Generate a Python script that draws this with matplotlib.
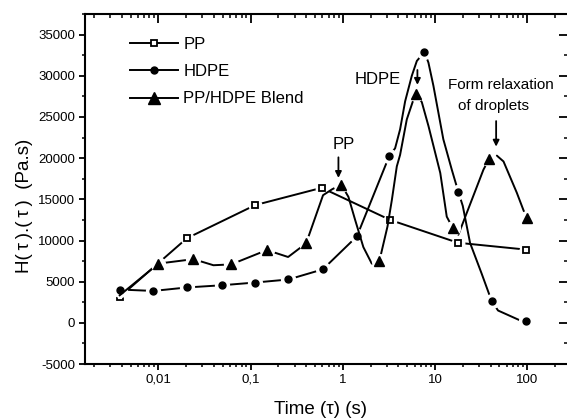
import matplotlib
matplotlib.use("Agg")
import matplotlib.pyplot as plt
from matplotlib.ticker import FixedLocator, FixedFormatter, NullFormatter, MultipleLocator
import numpy as np

plt.rcParams['font.family'] = ['Liberation Sans', 'DejaVu Sans']
plt.rcParams['axes.unicode_minus'] = False

# ---- data ----
pp_x = [0.0038, 0.0203, 0.112, 0.59, 3.26, 17.7, 96.6]
pp_y = [3150, 10270, 14300, 16400, 12500, 9730, 8900]

hdpe_x = [0.0038, 0.0088, 0.0203, 0.0488, 0.112, 0.257, 0.607, 1.42, 3.2, 7.67, 17.9, 41.3, 96.6]
hdpe_y = [4050, 3880, 4300, 4570, 4900, 5270, 6500, 10500, 20300, 32900, 15900, 2600, 180]
# curve trace of HDPE (markers + points)
hdpe_cx = [0.0038, 0.0088, 0.0203, 0.0488, 0.112, 0.257, 0.607, 1.42, 3.2, 3.69, 4.18, 4.74,
           5.6, 6.35, 7.67, 8.48, 9.6, 12.3, 15.2, 17.9, 20.0, 24.0, 32.0, 41.3, 48.3, 83.7, 96.6]
hdpe_cy = [4050, 3880, 4300, 4570, 4900, 5270, 6500, 10500, 20300, 21200, 23500, 26900,
           30000, 31800, 32900, 31600, 28800, 22300, 18600, 15900, 14200, 9700, 6000, 2600, 1500, 300, 180]

blend_x = [0.01, 0.024, 0.0615, 0.15, 0.4, 0.96, 2.49, 6.24, 15.6, 38.6, 99.0]
blend_y = [7200, 7740, 7100, 8840, 9660, 16800, 7500, 27800, 11500, 19900, 12700]
blend_cx = [0.0038, 0.01, 0.024, 0.0395, 0.0615, 0.15, 0.255, 0.4, 0.61, 0.76, 0.96, 1.15, 1.36,
            1.67, 2.06, 2.49, 3.05, 3.4, 3.85, 4.18, 4.94, 5.83, 6.24, 7.19, 8.49, 11.4, 13.4,
            15.6, 17.9, 33.5, 38.6, 46.9, 55.3, 77.1, 90.9, 99.0]
blend_cy = [3350, 7200, 7740, 7000, 7100, 8840, 8000, 9660, 15500, 16200, 16800, 15300, 12500,
            9200, 7200, 7500, 11700, 14900, 19000, 20400, 24700, 27100, 27800, 26800, 23900, 18200,
            12900, 11500, 10700, 18600, 19900, 20300, 19600, 15800, 13700, 12700]

x_ticks = [0.01, 0.1, 1, 10, 100]
x_labels = ["0,01", "0,1", "1", "10", "100"]
y_ticks = [-5000, 0, 5000, 10000, 15000, 20000, 25000, 30000, 35000]

fig = plt.figure(figsize=(5.67, 4.18), dpi=100)
ax = fig.add_axes([0.150, 0.129, 1.0018 - 0.150, 0.9665 - 0.129])
ax.set_xscale('log')
ax.set_xlim(0.0016, 277)
ax.set_ylim(-5000, 37500)

lw = 1.4
# PP
ax.plot(pp_x, pp_y, color='black', lw=lw, zorder=2)
ax.plot(pp_x, pp_y, ls='none', marker='o', ms=9, mfc='white', mec='white', zorder=2.1)
ax.plot(pp_x, pp_y, ls='none', marker='s', ms=4, mfc='white', mec='black', mew=1.3, zorder=2.2)
# HDPE
ax.plot(hdpe_cx, hdpe_cy, color='black', lw=lw, zorder=3)
ax.plot(hdpe_x, hdpe_y, ls='none', marker='o', ms=10, mfc='white', mec='white', zorder=3.1)
ax.plot(hdpe_x, hdpe_y, ls='none', marker='o', ms=5, mfc='black', mec='black', zorder=3.2)
# Blend
ax.plot(blend_cx, blend_cy, color='black', lw=lw, zorder=4)
ax.plot(blend_x, blend_y, ls='none', marker='o', ms=10, mfc='white', mec='white', zorder=4.1)
ax.plot(blend_x, blend_y, ls='none', marker='^', ms=7.5, mfc='black', mec='black', zorder=4.2)

# legend handles
h1, = ax.plot([], [], color='black', lw=lw, marker='s', ms=4, mfc='white', mec='black', mew=1.3)
h2, = ax.plot([], [], color='black', lw=lw, marker='o', ms=5, mfc='black')
h3, = ax.plot([], [], color='black', lw=lw, marker='^', ms=8.5, mfc='black')
ax.legend([h1, h2, h3], ["PP", "HDPE", "PP/HDPE Blend"], loc='upper left',
          bbox_to_anchor=(0.079, 0.953), frameon=False, fontsize=12, numpoints=1,
          handlelength=2.9, handletextpad=0.3, labelspacing=0.73, borderaxespad=0)

# annotations
arrowprops = dict(arrowstyle='-|>', color='black', lw=1.3, mutation_scale=9, shrinkA=0, shrinkB=0)
ax.text(1.02, 21700, "PP", ha='center', va='center', fontsize=12)
ax.annotate("", xy=(0.896, 17600), xytext=(0.896, 20100), arrowprops=arrowprops)
ax.text(2.41, 29500, "HDPE", ha='center', va='center', fontsize=12)
ax.annotate("", xy=(6.44, 28900), xytext=(6.44, 30700), arrowprops=arrowprops)
ax.text(51.9, 28900, "Form relaxation", ha='center', va='center', fontsize=11)
ax.text(42.7, 26300, "of droplets", ha='center', va='center', fontsize=11)
ax.annotate("", xy=(46, 21400), xytext=(46, 24500), arrowprops=arrowprops)

# axes styling
for s in ax.spines.values():
    s.set_linewidth(1.5)
ax.xaxis.set_major_locator(FixedLocator(x_ticks))
ax.xaxis.set_major_formatter(FixedFormatter(x_labels))
minors = [m * 10.0 ** e for e in range(-3, 3) for m in range(2, 10)]
ax.xaxis.set_minor_locator(FixedLocator(minors))
ax.xaxis.set_minor_formatter(NullFormatter())
ax.yaxis.set_major_locator(FixedLocator(y_ticks))
ax.yaxis.set_minor_locator(MultipleLocator(2500))
ax.tick_params(axis='both', which='major', direction='out', length=4.5, width=1.3, labelsize=9.5, pad=2.5)
ax.tick_params(axis='both', which='minor', direction='out', length=2.5, width=1.1)

# top / right mirrored ticks pointing inward
axt = ax.twiny()
axt.set_xscale('log')
axt.set_xlim(ax.get_xlim())
axt.xaxis.set_major_locator(FixedLocator(x_ticks))
axt.xaxis.set_minor_locator(FixedLocator(minors))
axt.xaxis.set_major_formatter(NullFormatter())
axt.xaxis.set_minor_formatter(NullFormatter())
axt.tick_params(axis='x', which='major', direction='in', length=6.5, width=1.3)
axt.tick_params(axis='x', which='minor', direction='in', length=3, width=1.1)
axt.tick_params(axis='y', left=False, right=False, labelleft=False, labelright=False)
for s in axt.spines.values():
    s.set_visible(False)

axr = ax.twinx()
axr.set_ylim(ax.get_ylim())
axr.yaxis.set_major_locator(FixedLocator(y_ticks))
axr.yaxis.set_minor_locator(MultipleLocator(2500))
axr.yaxis.set_major_formatter(NullFormatter())
axr.tick_params(axis='y', which='major', direction='in', length=6.5, width=1.3)
axr.tick_params(axis='y', which='minor', direction='in', length=3, width=1.1)
for s in axr.spines.values():
    s.set_visible(False)

ax.set_xlabel("Time (\u03c4) (s)", fontsize=13.5, labelpad=11)
ax.set_ylabel("H(\u2009\u03c4\u2009).(\u2009\u03c4\u2009)  (Pa.s)", fontsize=13.5, labelpad=4)
ax.xaxis.label.set_x(0.4865)
ax.yaxis.label.set_y(0.451)

fig.savefig("out.png", dpi=100)
